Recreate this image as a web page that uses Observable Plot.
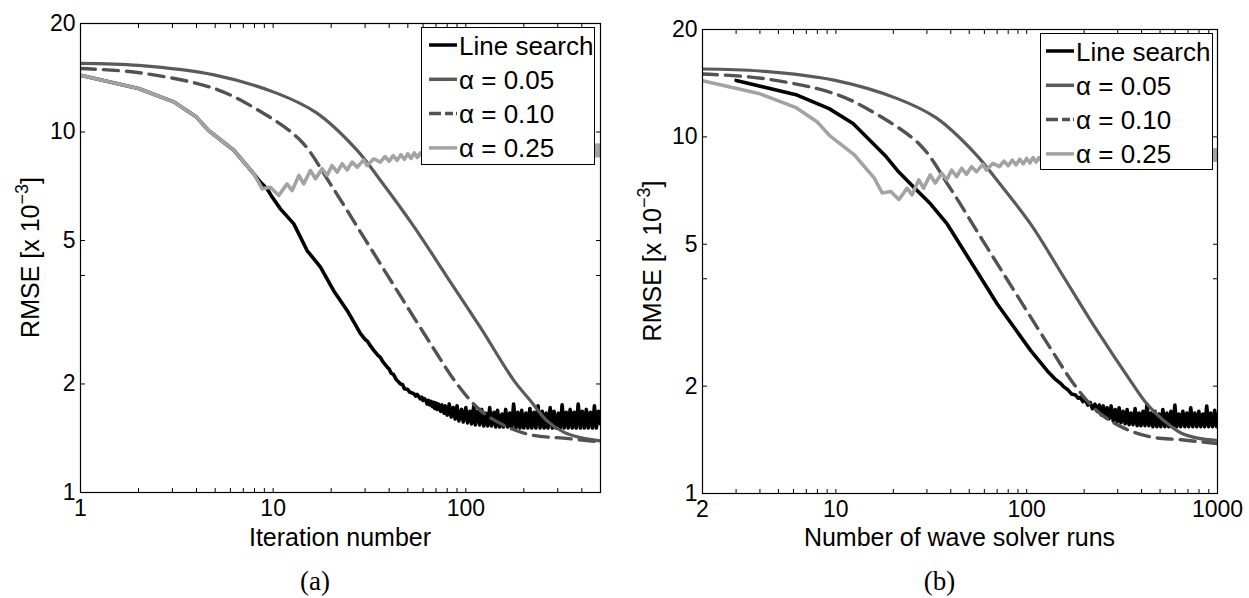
<!DOCTYPE html>
<html><head><meta charset="utf-8">
<script src="https://cdn.jsdelivr.net/npm/d3@7"></script>
<script src="https://cdn.jsdelivr.net/npm/@observablehq/plot@0.6"></script>
<style>
html,body{margin:0;padding:0;background:#fff;}
#fig{position:relative;width:1249px;height:598px;overflow:hidden;background:#fff;}
.panel{position:absolute;top:0;}
.legend{position:absolute;background:#fff;border:1px solid #000;box-sizing:border-box;}
</style></head><body><div id="fig"></div>
<script>
// ---------- series styling ----------
const seriesNames  = ["Line search", "α = 0.05", "α = 0.10", "α = 0.25"];
const seriesColors = ["#000000", "#5a5a5a", "#525252", "#a3a3a3"];
const seriesWidths = [3.6, 3.2, 3.4, 3.6];
const seriesDash   = [null, null, "15,8", null];
const seriesCurve  = ["linear", "catmull-rom", "catmull-rom", "linear"];
const legendDash   = [null, null, "12,4,8,3", null];

// ---------- axes ----------
const yDomain  = [1, 20];
const yTicks   = [1, 2, 4, 5, 10, 20];
const yLabels  = [1, 2, 5, 10, 20];
const xDomainA = [1, 500];
const xTicksA  = [1,2,3,4,5,6,7,8,9,10,20,30,40,50,60,70,80,90,100,200,300,400,500];
const xLabelsA = [1, 10, 100, 500];
const xDomainB = [2, 1000];
const xTicksB  = [2,3,4,5,6,7,8,9,10,20,30,40,50,60,70,80,90,100,200,300,400,500,600,700,800,900,1000];
const xLabelsB = [2, 10, 100, 1000];
const yTitle = ["RMSE [x 10", "−3", "]"];
const xTitleA = "Iteration number";
const xTitleB = "Number of wave solver runs";
const captions = ["(a)", "(b)"];

// ---------- panel (a): RMSE vs iteration number ----------
const lineSearchA = [
  [1,14.37],[2,13.2],[3.07,12.1],[4,11.0],[4.62,10.1],[6.25,8.9],[7.93,7.66],[8.6,7.25],[9.3,6.96],[9.88,6.6],
  [10.9,6.12],[12.8,5.56],[15,4.69],[17.6,4.22],[20.6,3.63],[24.2,3.20],[28.4,2.76],[30,2.66],[31,2.62],[32,2.55],
  [33.3,2.48],[35,2.40],[36,2.37],[37,2.31],[39,2.23],[40,2.20],[41,2.14],[42,2.13],[43.5,2.06],[45.8,2.0],
  [47,1.99],[48,1.94],[50,1.93],[51,1.90],[53.7,1.88],[55,1.85],[56,1.87],[58,1.82],[59,1.84],[60,1.80],[61,1.82],
  [62,1.80],[63,1.76],[64,1.80],[65,1.75],[66,1.79],[67,1.73],[68,1.78],[69,1.71],[70,1.77],[71,1.70],[72,1.76],
  [74,1.68],[75,1.75],[77,1.66],[78,1.74],[80,1.64],[82,1.76],[84,1.62],[86,1.72],[88,1.60],[90,1.74],[92,1.58],
  [95,1.70],[97,1.57],[100,1.72],[102,1.56],[105,1.68],[107,1.55],[110,1.74],[112,1.54],[115,1.68],[118,1.54],
  [121,1.70],[124,1.53],[127,1.66],[130,1.53],[133,1.72],[136,1.53],[140,1.67],[143,1.52],[146,1.69],[150,1.52],
  [154,1.65],[157,1.52],[161,1.70],[165,1.52],[169,1.66],[173,1.51],[177,1.76],[182,1.51],[186,1.67],[191,1.51],
  [195,1.69],[200,1.51],[205,1.66],[210,1.51],[215,1.71],[220,1.51],[226,1.67],[231,1.51],[237,1.74],[243,1.51],
  [249,1.68],[255,1.51],[261,1.66],[267,1.51],[274,1.72],[281,1.51],[287,1.68],[294,1.51],[302,1.66],[309,1.51],
  [316,1.75],[324,1.51],[332,1.67],[340,1.51],[348,1.70],[357,1.51],[365,1.67],[374,1.51],[383,1.76],[393,1.51],
  [402,1.68],[412,1.51],[422,1.70],[432,1.51],[443,1.67],[454,1.51],[465,1.74],[476,1.51],[488,1.68],[500,1.55]
];
const alpha05A = [
  [1,15.5],[2,15.3],[4.93,14.4],[10.5,12.8],[16.8,11.3],[27,8.95],[36,7.35],[54,5.45],[80,3.96],
  [119,2.87],[177,2.05],[216,1.80],[264,1.58],[322,1.47],[393,1.42],[500,1.39]
];
const alpha10A = [
  [1,15.0],[2.03,14.6],[4.95,13.2],[8.36,11.5],[13.9,9.46],[19.8,7.18],[29.5,5.11],[44,3.63],[65.5,2.59],
  [90,2.0],[119,1.69],[164,1.52],[225,1.44],[322,1.415],[500,1.38]
];
const alpha25A = [
  [1,14.37],[2,13.2],[3.07,12.1],[4,11.0],[4.62,10.1],[6.25,8.9],[7.93,7.66],[8.77,6.96],[9.68,7.03],[10.7,6.67],
  [11.8,7.18],[12.55,6.88],[13.6,7.58],[14.4,7.18],[15.6,7.82],[16.6,7.42],[17.95,7.91],[19.05,7.58],[20.2,8.07],
  [21.5,7.74],[22.8,8.16],[24.2,7.85],[25.7,8.25],[27.3,7.99],[29.5,8.37],[30.7,8.07],[33.3,8.43],[36,8.25],
  [38,8.55],[40,8.3],[42,8.6],[44,8.35],[46,8.65],[48,8.4],[50,8.7],[52,8.45],[54,8.75],[56,8.5],[58,8.75],
  [60,8.55],[63,8.8],[66,8.6],[70,8.8],[80,8.75],[100,8.85],[150,8.85],[200,8.9],[300,8.9],[400,8.95],
  [460,8.9],[466,9.2],[472,8.6],[478,9.2],[484,8.6],[490,9.2],[496,8.6],[500,9.0]
];

// ---------- panel (b): RMSE vs number of wave solver runs ----------
const lineSearchB = [
  [3,14.4],[6.26,13.1],[9.22,12.0],[12.3,10.9],[18.1,8.87],[21,8.05],[25.6,7.22],[31.3,6.49],[38.3,5.70],
  [46.8,4.80],[57.3,4.04],[70.1,3.40],[85.6,2.93],[104.8,2.52],[128,2.21],[140,2.10],[150,2.04],[156.6,1.99],
  [165,1.95],[172,1.90],[180,1.89],[186,1.85],[191,1.86],[197,1.81],[203,1.83],[209,1.77],[215,1.80],[221,1.73],
  [228,1.78],[234,1.70],[240,1.77],[246,1.66],[252,1.76],[258,1.64],[264,1.74],[270,1.62],[277,1.76],[284,1.60],
  [291,1.72],[298,1.59],[305,1.74],[312,1.58],[320,1.70],[328,1.57],[336,1.72],[344,1.56],[352,1.68],[361,1.56],
  [370,1.73],[379,1.55],[388,1.68],[397,1.55],[407,1.70],[417,1.55],[427,1.78],[437,1.55],[448,1.68],[459,1.54],
  [470,1.70],[481,1.54],[493,1.67],[505,1.54],[517,1.72],[530,1.54],[543,1.68],[556,1.54],[570,1.70],[584,1.54],
  [598,1.77],[612,1.54],[627,1.67],[642,1.54],[658,1.70],[674,1.54],[690,1.68],[707,1.54],[724,1.74],[742,1.54],
  [760,1.68],[779,1.54],[798,1.70],[817,1.54],[837,1.67],[857,1.54],[878,1.76],[899,1.54],[921,1.68],[944,1.54],
  [967,1.71],[990,1.54],[1000,1.66]
];
const alpha05B = [
  [2,15.5],[4,15.3],[9.9,14.4],[21,12.8],[33.6,11.3],[54,8.95],[70.1,7.54],[104.8,5.70],[156.6,4.04],
  [234,2.86],[350,2.07],[428,1.78],[524,1.60],[640,1.48],[786,1.43],[1000,1.41]
];
const alpha10B = [
  [2,15.0],[4.06,14.6],[9.9,13.2],[16.7,11.5],[27.8,9.46],[39.6,7.2],[59,5.11],[88,3.63],[131,2.59],
  [180,2.0],[238,1.69],[328,1.52],[450,1.44],[644,1.415],[1000,1.38]
];
const alpha25B = [
  [2,14.37],[4,13.2],[6.14,12.1],[8,11.0],[9.24,10.1],[12.5,8.9],[15.9,7.66],[17.5,6.96],[19.4,7.03],[21.4,6.67],
  [23.6,7.18],[25.1,6.88],[27.2,7.58],[28.8,7.18],[31.2,7.82],[33.2,7.42],[35.9,7.91],[38.1,7.58],[40.4,8.07],
  [43,7.74],[45.6,8.16],[48.4,7.85],[51.4,8.25],[54.6,7.99],[59,8.37],[61.4,8.07],[66.6,8.43],[72,8.25],
  [76,8.55],[80,8.3],[84,8.6],[88,8.35],[92,8.65],[96,8.4],[100,8.7],[104,8.45],[108,8.75],[112,8.5],[116,8.75],
  [120,8.55],[126,8.8],[132,8.6],[140,8.8],[160,8.75],[200,8.85],[300,8.85],[400,8.9],[600,8.9],[800,8.95],
  [920,8.9],[932,9.2],[944,8.6],[956,9.2],[968,8.6],[980,9.2],[992,8.6],[1000,9.0]
];

const FONT = "'Liberation Sans', Arial, Helvetica, sans-serif";
const SERIF = "'Liberation Serif', 'DejaVu Serif', serif";
const fig = document.getElementById("fig");

function makePanel(cfg) {
  const xy = {x: d => d[0], y: d => d[1]};
  const lines = cfg.series.map((data, i) => Plot.line(data, {
    ...xy, stroke: seriesColors[i], strokeWidth: seriesWidths[i],
    strokeDasharray: seriesDash[i] || undefined, curve: seriesCurve[i],
    strokeLinejoin: "round", clip: true
  }));
  const chart = Plot.plot({
    width: cfg.width, height: 598,
    marginLeft: cfg.mL, marginRight: cfg.mR, marginTop: cfg.mT, marginBottom: cfg.mB,
    style: {fontFamily: FONT, background: "transparent", overflow: "visible", color: "black"},
    x: {type: "log", domain: cfg.xDomain},
    y: {type: "log", domain: yDomain},
    marks: [
      ...lines,
      Plot.axisX({anchor: "bottom", ticks: cfg.xTicks, tickSize: 4, dy: -4, tickFormat: () => "", label: null}),
      Plot.axisX({anchor: "top", ticks: cfg.xTicks, tickSize: 4, dy: 4, tickFormat: () => "", label: null}),
      Plot.axisY({anchor: "left", ticks: yTicks, tickSize: 5, dx: 5, tickFormat: () => "", label: null}),
      Plot.axisY({anchor: "right", ticks: yTicks, tickSize: 5, dx: -5, tickFormat: () => "", label: null}),
      Plot.axisX({anchor: "bottom", ticks: cfg.xLabels, tickSize: 0, tickPadding: 7, tickFormat: d => String(d), fontSize: 23, label: null}),
      Plot.axisY({anchor: "left", ticks: yLabels, tickSize: 0, tickPadding: 5, tickFormat: d => String(d), fontSize: 23, label: null}),
      Plot.frame({stroke: "black", strokeWidth: 1.2})
    ]
  });
  chart.classList.add("panel");
  chart.style.left = cfg.left + "px";
  const svg = d3.select(chart);
  const cx = (cfg.mL + cfg.width - cfg.mR) / 2;
  const cy = (cfg.mT + 598 - cfg.mB) / 2;
  // y title
  const yt = svg.append("text")
    .attr("transform", `translate(${cfg.yTitleX},${cy}) rotate(-90)`)
    .attr("text-anchor", "middle").attr("font-family", FONT).attr("font-size", 25).attr("fill", "black");
  yt.append("tspan").text(yTitle[0]);
  yt.append("tspan").attr("font-size", 18).attr("dy", -11).text(yTitle[1]);
  yt.append("tspan").attr("dy", 11).text(yTitle[2]);
  // x title
  svg.append("text").attr("x", cx).attr("y", 546).attr("text-anchor", "middle")
    .attr("font-family", FONT).attr("font-size", 25).attr("fill", "black").text(cfg.xTitle);
  // caption
  svg.append("text").attr("x", cfg.captionX).attr("y", 590).attr("text-anchor", "middle")
    .attr("font-family", SERIF).attr("font-size", 27).attr("fill", "black").text(cfg.caption);
  fig.appendChild(chart);

  // legend
  const lg = document.createElement("div");
  lg.className = "legend";
  Object.assign(lg.style, {left: cfg.lg.x + "px", top: cfg.lg.y + "px", width: cfg.lg.w + "px", height: cfg.lg.h + "px"});
  const ls = d3.select(lg).append("svg").attr("width", cfg.lg.w).attr("height", cfg.lg.h)
    .style("position", "absolute").style("left", "-1px").style("top", "-1px");
  seriesNames.forEach((name, i) => {
    const yy = 18 + 34.3 * i;
    ls.append("line").attr("x1", cfg.lg.sx).attr("x2", cfg.lg.sx + 28).attr("y1", yy).attr("y2", yy)
      .attr("stroke", seriesColors[i]).attr("stroke-width", 3.5)
      .attr("stroke-dasharray", legendDash[i]);
    ls.append("text").attr("x", cfg.lg.sx + 30).attr("y", yy + 9.5)
      .attr("font-family", FONT).attr("font-size", 26).attr("fill", "black").text(name);
  });
  fig.appendChild(lg);
}

makePanel({
  left: 0, width: 624, mL: 80, mR: 24, mT: 23, mB: 106,
  xDomain: xDomainA, xTicks: xTicksA, xLabels: xLabelsA,
  series: [lineSearchA, alpha05A, alpha10A, alpha25A],
  xTitle: xTitleA, caption: captions[0], yTitleX: 39, captionX: 315,
  lg: {x: 421, y: 27, w: 174, h: 138, sx: 8}
});
makePanel({
  left: 624, width: 625, mL: 78, mR: 32, mT: 29, mB: 105,
  xDomain: xDomainB, xTicks: xTicksB, xLabels: xLabelsB,
  series: [lineSearchB, alpha05B, alpha10B, alpha25B],
  xTitle: xTitleB, caption: captions[1], yTitleX: 37, captionX: 315.5,
  lg: {x: 1040, y: 33, w: 173, h: 137, sx: 6}
});
</script></body></html>
